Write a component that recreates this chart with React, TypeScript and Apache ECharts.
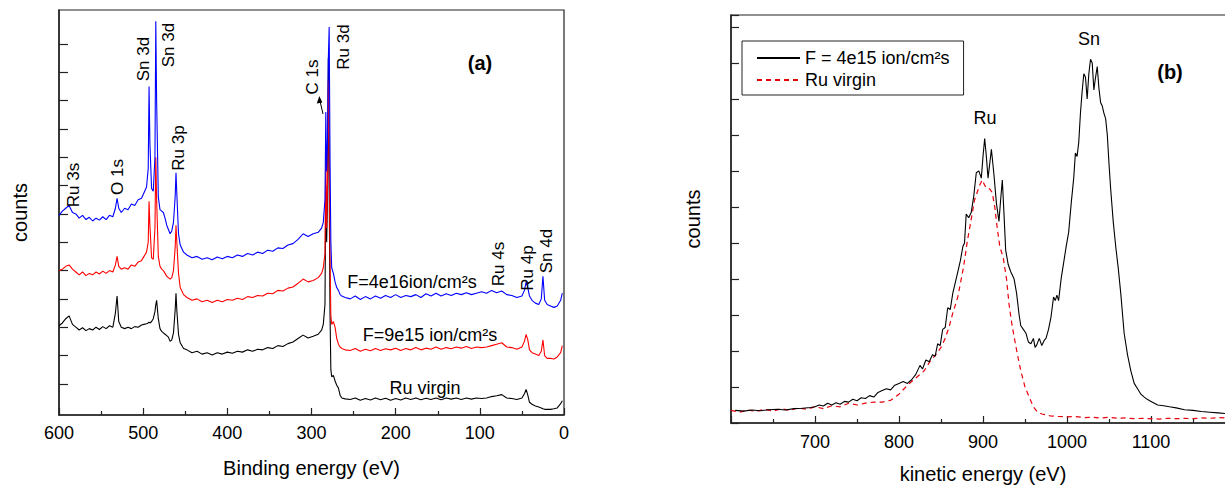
import React, { useEffect, useRef } from "react";
import * as echarts from "echarts";

// ---------- Panel (a): XPS survey, binding energy (eV) ----------
const bindingE = [
  600, 596, 592, 588, 584, 580, 576, 572, 568, 564, 560, 556, 552, 548, 544, 540, 536, 533, 531, 529, 526, 522, 518, 514, 510, 506, 502,
  499, 496, 494, 493, 492, 490, 488, 486, 485, 484, 482, 480, 478, 476, 474, 472, 470, 468, 466, 464, 462, 461, 460, 458, 456, 452,
  448, 442, 436, 430, 424, 418, 412, 406, 400, 394, 388, 382, 376, 370, 364, 358, 352, 346, 340, 334, 328, 322, 316, 310, 304, 298, 292,
  288, 286, 284, 283, 282, 281, 280, 279, 278, 277, 276, 274, 272, 270, 268, 266, 264, 260,
  254, 248, 242, 236, 230, 224, 218, 212, 206, 200, 194, 188, 182, 176, 170, 164, 158, 152, 146, 140, 134, 128, 122, 116, 110, 104, 98, 92, 86, 80, 74, 68, 62, 56, 50,
  47, 45, 43, 41, 38, 34, 30, 27, 25, 23, 20, 16, 12, 8, 4, 2,
];

const blue4e16 = [
  6.95, 7.1, 7.2, 7.3, 7.05, 7.0, 6.85, 6.95, 6.8, 6.88, 6.75, 6.85, 6.78, 6.9, 6.8, 6.95, 6.9, 7.2, 7.55, 7.2, 7.05, 7.2, 7.15, 7.35, 7.3, 7.5, 7.55,
  7.75, 7.95, 8.6, 11.5, 9.5, 7.9, 7.8, 9.0, 13.8, 11.0, 7.6, 7.15, 7.1, 7.05, 6.85, 6.6, 6.45, 6.3, 6.4, 6.7, 7.6, 8.45, 7.7, 6.3, 5.9, 5.65,
  5.55, 5.45, 5.5, 5.4, 5.45, 5.38, 5.48, 5.42, 5.5, 5.45, 5.55, 5.5, 5.6, 5.55, 5.65, 5.6, 5.72, 5.68, 5.8, 5.78, 5.9, 5.95, 6.1, 6.3, 6.2, 6.3, 6.35,
  6.5, 6.7, 7.5, 10.6, 8.5, 9.5, 12.5, 13.6, 9.0, 6.0, 5.1, 4.9, 4.6, 4.4, 4.3, 4.15, 4.1, 4.05,
  4.0, 4.1, 3.98, 4.08, 4.0, 4.1, 4.02, 4.12, 4.05, 4.15, 4.05, 4.12, 4.08, 4.15, 4.05, 4.18, 4.1, 4.2, 4.1, 4.18, 4.12, 4.2, 4.15, 4.22, 4.15, 4.2, 4.25, 4.2, 4.3, 4.22, 4.28, 4.15, 4.12, 4.05, 4.1,
  4.3, 4.6, 4.4, 4.1, 3.95, 3.85, 3.8, 4.0, 4.8, 3.95, 3.8, 3.75, 3.7, 3.75, 3.95, 4.2,
];

const red9e15 = [
  5.0, 5.05, 5.15, 5.2, 5.05, 4.95, 4.85, 4.95, 4.82, 4.9, 4.85, 4.95, 4.88, 4.98, 4.9, 5.0, 4.95, 5.2, 5.5, 5.15, 5.05, 5.1, 5.05, 5.2, 5.15, 5.3, 5.35,
  5.5, 5.65, 6.0, 7.45, 6.6, 5.45, 5.4, 6.5, 9.0, 7.5, 5.5, 5.15, 5.05, 5.0, 4.9, 4.8, 4.75, 4.7, 4.75, 5.0, 5.8, 6.6, 6.0, 4.9, 4.4, 4.15,
  4.05, 3.95, 4.0, 3.9, 3.95, 3.87, 3.95, 3.9, 3.98, 3.95, 4.02, 3.98, 4.08, 4.05, 4.12, 4.1, 4.2, 4.18, 4.3, 4.28, 4.38, 4.42, 4.55, 4.7, 4.6, 4.65, 4.75,
  4.9, 5.1, 5.6, 9.0, 6.5, 8.0, 11.7, 9.5, 5.5, 3.4, 3.1, 3.2, 3.0, 2.6, 2.4, 2.3, 2.25, 2.2,
  2.18, 2.25, 2.15, 2.22, 2.17, 2.25, 2.18, 2.24, 2.2, 2.26, 2.18, 2.25, 2.2, 2.28, 2.2, 2.26, 2.22, 2.3, 2.22, 2.28, 2.24, 2.3, 2.26, 2.32, 2.25, 2.3, 2.28, 2.3, 2.35, 2.4, 2.45, 2.3, 2.28, 2.22, 2.3,
  2.5, 2.75, 2.55, 2.2, 2.1, 2.05, 2.0, 2.15, 2.55, 2.0, 1.9, 1.9, 1.88, 1.95, 2.1, 2.35,
];

const blackVirgin = [
  3.05, 3.15, 3.3, 3.4, 3.1, 3.0, 2.9, 2.98, 2.88, 2.95, 2.9, 3.0, 2.92, 3.02, 2.95, 3.05, 3.0, 3.5, 4.1, 3.2, 3.0, 2.95, 3.0, 2.95, 3.02, 3.0, 3.08,
  3.1, 3.12, 3.15, 3.18, 3.15, 3.2, 3.3, 3.55, 3.8, 3.95, 3.3, 2.95, 2.85, 2.8, 2.75, 2.7, 2.65, 2.5, 2.55, 2.8, 3.6, 4.2, 3.6, 2.75, 2.45, 2.25,
  2.2, 2.1, 2.15, 2.05, 2.1, 2.02, 2.1, 2.05, 2.12, 2.08, 2.15, 2.12, 2.2, 2.15, 2.22, 2.2, 2.28, 2.25, 2.35, 2.32, 2.42, 2.48, 2.6, 2.72, 2.62, 2.68, 2.75,
  2.9, 3.1, 3.8, 8.0, 6.0, 7.5, 12.5, 8.0, 3.5, 1.5, 1.25, 1.3, 1.1, 0.95, 0.85, 0.6, 0.5, 0.47,
  0.45, 0.5, 0.42, 0.48, 0.43, 0.5, 0.44, 0.49, 0.42, 0.48, 0.43, 0.5, 0.45, 0.5, 0.44, 0.49, 0.45, 0.5, 0.44, 0.5, 0.46, 0.5, 0.45, 0.5, 0.46, 0.5, 0.48, 0.5, 0.55, 0.58, 0.62, 0.5, 0.48, 0.45, 0.5,
  0.65, 0.8, 0.6, 0.35, 0.28, 0.22, 0.18, 0.15, 0.12, 0.1, 0.1, 0.1, 0.12, 0.15, 0.3, 0.4,
];

// ---------- Panel (b): kinetic energy (eV) ----------
const kinE4e15 = [
  605, 615, 625, 635, 645, 655, 665, 675, 685, 695,
  700, 705, 710, 715, 720, 725, 730, 735, 740, 745, 750, 755, 760, 765, 770, 775, 780, 785, 790, 795, 800,
  805, 810, 815, 820, 825,
  828, 832, 836, 840, 843, 846, 849, 852, 855, 858, 861, 864, 867, 870, 873, 876, 878,
  880, 883, 886, 889, 892, 895, 898, 900, 902, 904, 906, 908, 910, 913, 916, 919, 921, 923, 925, 927, 930, 933, 935, 937, 940, 943, 945, 948, 951, 954, 957, 960, 962, 964, 967, 970, 973, 975, 978, 981, 984, 986, 988, 990, 993, 995, 997, 999,
  1002, 1005, 1008, 1010, 1012, 1014, 1016, 1018, 1020, 1022, 1024, 1026, 1028, 1030, 1032, 1034, 1036, 1038, 1040, 1042, 1044, 1046, 1048, 1050, 1052, 1055, 1058, 1061, 1064, 1068,
  1072, 1076, 1080, 1084, 1088, 1092, 1096, 1100, 1104, 1108, 1115, 1122, 1130, 1140, 1150, 1160, 1170, 1180, 1190, 1200,
];
const counts4e15 = [
  0.35, 0.33, 0.36, 0.34, 0.37, 0.38, 0.36, 0.4, 0.41, 0.43,
  0.45, 0.5, 0.47, 0.55, 0.5, 0.56, 0.52, 0.6, 0.58, 0.66, 0.62, 0.7, 0.68, 0.76, 0.72, 0.85, 0.9, 0.95, 0.92, 1.05, 1.1,
  1.15, 1.1, 1.2, 1.35, 1.6,
  1.5, 1.75, 1.7, 1.9, 1.85, 2.2, 2.15, 2.6, 2.65, 3.2, 3.15, 3.6, 3.9, 4.2, 4.5, 4.9, 5.0,
  5.8, 5.7, 5.85, 6.3, 6.95, 7.0, 6.8, 7.4, 7.9, 7.4, 6.8, 7.2, 7.6, 6.9, 6.1, 5.6, 6.2, 6.75, 5.8, 4.8, 4.4, 4.2, 4.1, 4.0, 3.6, 3.0, 2.7, 2.6, 2.5, 2.25, 2.2, 2.35, 2.1, 2.17, 2.35, 2.15, 2.3, 2.35, 2.6, 2.95, 3.5, 3.4, 3.55, 3.4, 4.0, 4.3, 4.6, 4.9,
  5.3, 6.1, 6.8, 7.5, 7.4, 7.8, 8.6, 9.2, 9.7, 9.6, 9.0, 9.7, 10.1, 10.0, 9.25, 9.6, 9.9, 9.3, 8.9, 8.8, 8.6, 8.45, 8.0, 7.2, 6.5, 5.6, 4.9, 4.3, 3.6, 2.5,
  1.9, 1.45, 1.1, 0.95, 0.8, 0.72, 0.65, 0.6, 0.55, 0.5, 0.48, 0.45, 0.42, 0.37, 0.35, 0.32, 0.3, 0.28, 0.26, 0.25,
];

const kinEVirgin = [
  600, 610, 620, 630, 640, 650, 660, 670, 680, 690, 700, 710, 720, 730, 740, 750, 760, 770, 780, 790, 800, 810, 820, 830,
  838, 844, 850, 855, 860, 864, 870, 877,
  881, 884, 887, 890, 893, 896, 899, 902, 905, 908, 911, 914, 917, 920, 924, 928, 931, 934, 937, 941,
  945, 950, 955, 960, 965, 970, 980, 990, 1000, 1010,
  1020, 1030, 1040, 1050, 1060, 1070, 1080, 1090, 1100, 1110, 1120, 1130, 1140, 1150, 1160, 1170, 1180, 1190, 1200,
];
const countsVirgin = [
  0.35, 0.3, 0.36, 0.32, 0.38, 0.33, 0.4, 0.35, 0.42, 0.38, 0.45, 0.4, 0.48, 0.45, 0.55, 0.5, 0.55, 0.58, 0.58, 0.63, 0.8, 1.05, 1.25, 1.45,
  1.75, 1.9, 2.1, 2.35, 2.7, 3.05, 3.5, 4.35,
  5.0, 5.4, 5.8, 6.2, 6.4, 6.6, 6.75, 6.6, 6.5, 6.5, 6.4, 6.0, 5.4, 4.9, 4.6, 4.0, 3.3, 2.8, 2.4, 1.9,
  1.45, 1.0, 0.72, 0.45, 0.3, 0.25, 0.2, 0.18, 0.17, 0.18,
  0.15, 0.16, 0.14, 0.16, 0.13, 0.14, 0.12, 0.13, 0.12, 0.11, 0.13, 0.12, 0.13, 0.12, 0.14, 0.13, 0.15, 0.14, 0.15,
];

const yTicksA = [1, 2, 3, 4, 5, 6, 7, 8, 9, 10, 11, 12, 13];
const seriesNameFluence = "F = 4e15 ion/cm²s";
const seriesNameVirgin = "Ru virgin";

const FONT = "'Liberation Sans', Arial, Helvetica, sans-serif";

export default function App() {
  const ref = useRef<HTMLDivElement>(null);

  useEffect(() => {
    const chart = echarts.init(ref.current!, null, { renderer: "svg" });
    const pair = (xs: number[], ys: number[]) => xs.map((x, i) => [x, ys[i]]);
    const AX = "#222";
    const axisLine = { show: true, onZero: false, lineStyle: { color: AX, width: 1.5 } };
    const nameStyle = { fontSize: 20, fontFamily: FONT, color: "#000" };
    const plainNum = (v: number) => String(v);

    const rotText = (text: string, x: number, y: number) => ({
      type: "text",
      x,
      y,
      rotation: Math.PI / 2,
      z: 100,
      style: { text, fontSize: 17, fontFamily: FONT, fill: "#000", align: "center", verticalAlign: "middle" },
    });
    const hText = (text: string, x: number, y: number, size = 18, bold = false) => ({
      type: "text",
      x,
      y,
      z: 100,
      style: {
        text,
        fontSize: size,
        fontWeight: bold ? "bold" : "normal",
        fontFamily: FONT,
        fill: "#000",
        align: "center",
        verticalAlign: "middle",
      },
    });

    chart.setOption({
      animation: false,
      backgroundColor: "#fff",
      grid: [
        { left: 59, top: 10, width: 505, height: 405, show: true, borderColor: AX, borderWidth: 1.2, outerBoundsMode: "none" },
        { left: 731, top: 15, width: 504, height: 408, show: true, borderColor: AX, borderWidth: 1.2, outerBoundsMode: "none" },
      ],
      xAxis: [
        {
          gridIndex: 0,
          type: "value",
          min: 0,
          max: 600,
          interval: 100,
          inverse: true,
          axisLine,
          axisTick: { show: true, inside: true, length: 7, lineStyle: { color: AX, width: 1.2 } },
          minorTick: { show: true, splitNumber: 2, length: 4, lineStyle: { color: AX, width: 1.2 } },
          axisLabel: { fontSize: 18, fontFamily: FONT, color: "#000", margin: 9, formatter: plainNum },
          splitLine: { show: false },
          name: "Binding energy (eV)",
          nameLocation: "middle",
          nameGap: 43,
          nameTextStyle: nameStyle,
        },
        {
          gridIndex: 1,
          type: "value",
          min: 600,
          max: 1200,
          interval: 100,
          axisLine,
          axisTick: { show: true, inside: true, length: 7, lineStyle: { color: AX, width: 1.2 } },
          minorTick: { show: true, splitNumber: 2, length: 4, lineStyle: { color: AX, width: 1.2 } },
          axisLabel: {
            fontSize: 18,
            fontFamily: FONT,
            color: "#000",
            margin: 10,
            showMinLabel: false,
            showMaxLabel: false,
            formatter: plainNum,
          },
          splitLine: { show: false },
          name: "kinetic energy (eV)",
          nameLocation: "middle",
          nameGap: 41,
          nameTextStyle: nameStyle,
        },
      ],
      yAxis: [
        {
          gridIndex: 0,
          type: "value",
          min: -0.1,
          max: 14.2,
          axisLine,
          axisTick: { show: true, inside: true, length: 9, customValues: yTicksA, lineStyle: { color: AX, width: 1.2 } },
          axisLabel: { show: false },
          splitLine: { show: false },
          name: "counts",
          nameLocation: "middle",
          nameGap: 29,
          nameRotate: 90,
          nameTextStyle: nameStyle,
        },
        {
          gridIndex: 1,
          type: "value",
          min: 0,
          max: 11.33,
          interval: 1,
          axisLine,
          axisTick: { show: true, inside: true, length: 8, lineStyle: { color: AX, width: 1.2 } },
          axisLabel: { show: false },
          splitLine: { show: false },
          name: "counts",
          nameLocation: "middle",
          nameGap: 28,
          nameRotate: 90,
          nameTextStyle: nameStyle,
        },
      ],
      legend: {
        show: true,
        data: [seriesNameFluence, seriesNameVirgin],
        orient: "vertical",
        left: 742,
        top: 41,
        itemWidth: 43,
        itemHeight: 14,
        itemGap: 4,
        padding: [8, 14, 6, 14],
        borderColor: "#222",
        borderWidth: 1,
        itemStyle: { opacity: 0 },
        textStyle: { fontSize: 18, fontFamily: FONT, color: "#000" },
      },
      series: [
        {
          name: "XPS Ru virgin",
          type: "line",
          xAxisIndex: 0,
          yAxisIndex: 0,
          data: pair(bindingE, blackVirgin),
          symbol: "none",
          color: "#000",
          lineStyle: { color: "#000", width: 1.1 },
        },
        {
          name: "XPS F=9e15",
          type: "line",
          xAxisIndex: 0,
          yAxisIndex: 0,
          data: pair(bindingE, red9e15),
          symbol: "none",
          color: "#ff0000",
          lineStyle: { color: "#ff0000", width: 1.1 },
        },
        {
          name: "XPS F=4e16",
          type: "line",
          xAxisIndex: 0,
          yAxisIndex: 0,
          data: pair(bindingE, blue4e16),
          symbol: "none",
          color: "#0000ff",
          lineStyle: { color: "#0000ff", width: 1.1 },
        },
        {
          name: seriesNameVirgin,
          type: "line",
          xAxisIndex: 1,
          yAxisIndex: 1,
          data: pair(kinEVirgin, countsVirgin),
          symbol: "none",
          color: "#e8000b",
          lineStyle: { color: "#e8000b", width: 1.2, type: [5, 4] },
        },
        {
          name: seriesNameFluence,
          type: "line",
          xAxisIndex: 1,
          yAxisIndex: 1,
          data: pair(kinE4e15, counts4e15),
          symbol: "none",
          color: "#000",
          lineStyle: { color: "#000", width: 1.1 },
        },
      ],
      graphic: [
        rotText("Ru 3s", 73, 185),
        rotText("O 1s", 117, 177),
        rotText("Sn 3d", 143, 59),
        rotText("Sn 3d", 168, 45),
        rotText("Ru 3p", 178, 148),
        rotText("C 1s", 312, 77),
        rotText("Ru 3d", 343, 47),
        rotText("Ru 4s", 498, 264),
        rotText("Ru 4p", 527, 268),
        rotText("Sn 4d", 546, 251),
        hText("(a)", 480, 63, 20, true),
        hText("F=4e16ion/cm²s", 412, 282),
        hText("F=9e15 ion/cm²s", 430, 335),
        hText("Ru virgin", 425, 388),
        hText("Ru", 985, 118),
        hText("Sn", 1089, 39),
        hText("(b)", 1170, 72, 20, true),
        {
          type: "line",
          z: 100,
          shape: { x1: 323, y1: 114, x2: 320, y2: 101 },
          style: { stroke: "#000", lineWidth: 1 },
        },
        {
          type: "polygon",
          z: 100,
          shape: { points: [[319.3, 96], [316.8, 103.5], [322.4, 102.5]] },
          style: { fill: "#000" },
        },
      ],
    });

    return () => chart.dispose();
  }, []);

  return <div ref={ref} style={{ position: "absolute", left: 0, top: 0, width: 1225, height: 486 }} />;
}
